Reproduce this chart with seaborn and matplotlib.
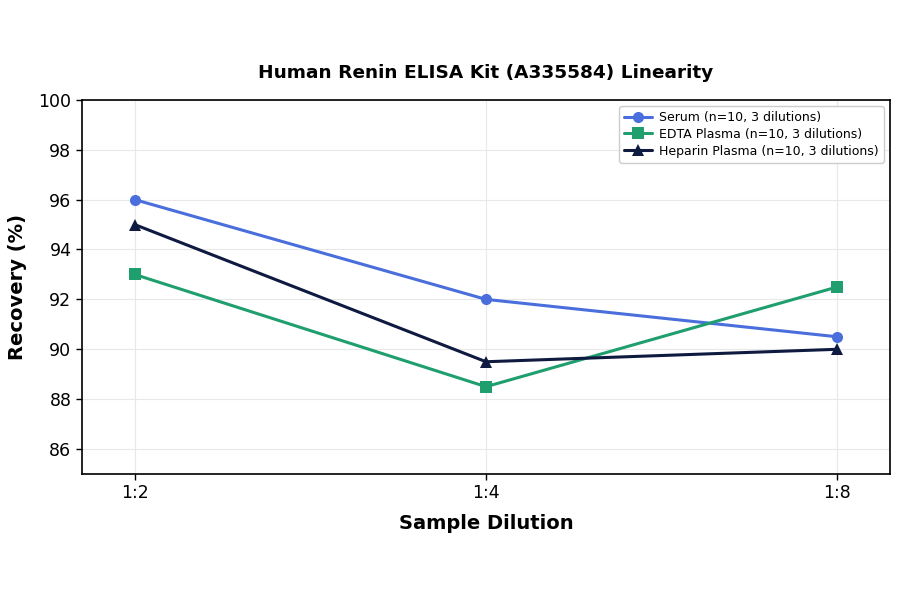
import matplotlib
matplotlib.use("Agg")
import matplotlib.pyplot as plt
import seaborn as sns
import pandas as pd

dilutions = ["1:2", "1:4", "1:8"]
serum = [96.0, 92.0, 90.5]
edta = [93.0, 88.5, 92.5]
heparin = [95.0, 89.5, 90.0]
series_names = ["Serum (n=10, 3 dilutions)", "EDTA Plasma (n=10, 3 dilutions)", "Heparin Plasma (n=10, 3 dilutions)"]
colors = ["#4a6fdc", "#1f9e6e", "#0e1a40"]
markers = ["o", "s", "^"]

sns.set_style("white")
plt.rcParams['font.family'] = ['DejaVu Sans']
plt.rcParams.update({"text.color": "black", "axes.labelcolor": "black",
                     "xtick.color": "black", "ytick.color": "black"})

rows = []
for name, vals in zip(series_names, [serum, edta, heparin]):
    for i, (d, v) in enumerate(zip(dilutions, vals)):
        rows.append({"x": i, "Dilution": d, "Recovery": v, "Series": name})
df = pd.DataFrame(rows)

fig = plt.figure(figsize=(9, 5.94), dpi=100)
ax = fig.add_axes([0.091, 0.202, 0.898, 0.630])

for name, c, m in zip(series_names, colors, markers):
    sub = df[df["Series"] == name]
    sns.lineplot(data=sub, x="x", y="Recovery", ax=ax, color=c, marker=m,
                 markersize=8, linewidth=2.2, markeredgewidth=0, label=name)

ax.set_xlim(-0.15, 2.15)
ax.set_ylim(85, 100)
ax.set_xticks(range(len(dilutions)))
ax.set_xticklabels(dilutions)
ax.set_yticks([86, 88, 90, 92, 94, 96, 98, 100])
ax.tick_params(axis='both', labelsize=12.5, length=4, width=1, direction='out', left=True, bottom=True)
ax.grid(True, color="#e8e8e8", linewidth=0.8)
ax.set_axisbelow(True)
for s in ax.spines.values():
    s.set_color("black")
    s.set_linewidth(1.2)

ax.set_xlabel("Sample Dilution", fontsize=14, fontweight="bold", labelpad=8, color="black")
ax.set_ylabel("Recovery (%)", fontsize=14, fontweight="bold", labelpad=8, color="black")
ax.set_title("Human Renin ELISA Kit (A335584) Linearity", fontsize=13.3, fontweight="bold", pad=16, color="black")

leg = ax.legend(loc="upper right", fontsize=9, frameon=True, framealpha=1,
                handlelength=2.2, handletextpad=0.6, borderpad=0.4, labelspacing=0.3,
                markerscale=1.0)
leg.get_frame().set_edgecolor("#cccccc")
for t in leg.get_texts():
    t.set_color("black")

fig.savefig("out.png", dpi=100)
